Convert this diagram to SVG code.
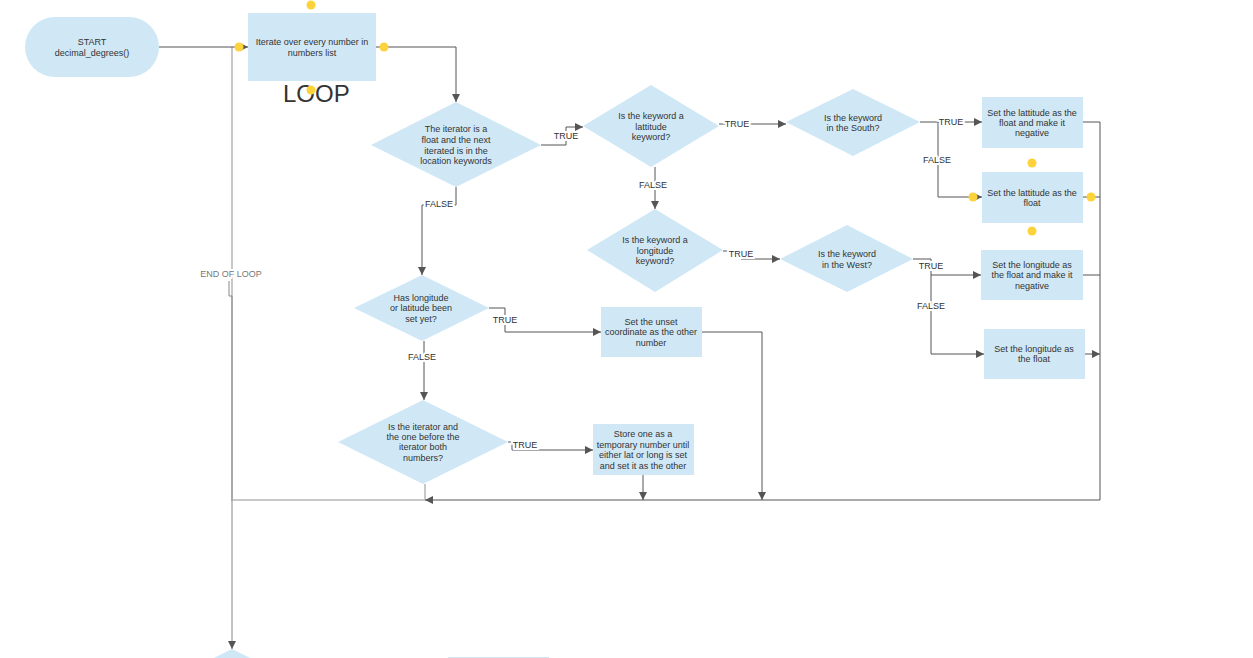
<svg xmlns="http://www.w3.org/2000/svg" width="1253" height="658" viewBox="0 0 1253 658">
<style>
.n{fill:#d0e8f6;stroke:none}
.t{font-family:"Liberation Sans",Arial,sans-serif;font-size:9px;fill:#333;text-anchor:middle}
.lbl{font-family:"Liberation Sans",Arial,sans-serif;font-size:9px;fill:#333;text-anchor:middle;stroke:#fff;stroke-width:4px;paint-order:stroke}
.c{fill:none;stroke:#555;stroke-width:1}
.g{fill:none;stroke:#c8c8c8;stroke-width:2}
.dot{fill:#fcd33b}
</style>
<defs>
<marker id="a" viewBox="0 0 8 8" refX="8" refY="4" markerWidth="8" markerHeight="8" markerUnits="userSpaceOnUse" orient="auto">
<path d="M0,0 L8,4 L0,8 z" fill="#555"/>
</marker>
</defs>
<rect width="1253" height="658" fill="#fff"/>
<g id="connectors">
<path class="g" d="M425,484 L425,500 L232,500 L232,47"/>
<path class="c" d="M159,47 L248,47" marker-end="url(#a)"/>
<path class="c" d="M376,47 L456,47 L456,102" marker-end="url(#a)"/>
<path class="c" d="M541,145 L566,145 L566,127 L583,127" marker-end="url(#a)"/>
<path class="c" d="M456,187 L456,205 L422,205 L422,275" marker-end="url(#a)"/>
<path class="c" d="M719,124 L786,124" marker-end="url(#a)"/>
<path class="c" d="M655,167 L655,209" marker-end="url(#a)"/>
<path class="c" d="M920,122 L982,122" marker-end="url(#a)"/>
<path class="c" d="M938,122 L938,197 L982,197" marker-end="url(#a)"/>
<path class="c" d="M723,251 L741,251 L741,259 L780,259" marker-end="url(#a)"/>
<path class="c" d="M913,259 L931,259 L931,354 L984,354" marker-end="url(#a)"/>
<path class="c" d="M931,275 L981,275" marker-end="url(#a)"/>
<path class="c" d="M1083,122 L1100,122 L1100,500 L425,500" marker-end="url(#a)"/>
<path class="c" d="M1083,197 L1100,197"/>
<path class="c" d="M1083,275 L1100,275"/>
<path class="c" d="M1085,354 L1100,354" marker-end="url(#a)"/>
<path class="c" d="M489,308 L505,308 L505,332 L601,332" marker-end="url(#a)"/>
<path class="c" d="M702,332 L762,332 L762,500" marker-end="url(#a)"/>
<path class="c" d="M424,341 L424,400" marker-end="url(#a)"/>
<path class="c" d="M508,442 L512,442 L512,450 L593,450" marker-end="url(#a)"/>
<path class="c" d="M643,475 L643,500" marker-end="url(#a)"/>
<path class="c" style="stroke:#888" d="M229,281 L229,296 L232,296 L232,649" marker-end="url(#a)"/>
<text class="lbl" x="566" y="139">TRUE</text>
<text class="lbl" x="439" y="207">FALSE</text>
<text class="lbl" x="737" y="127">TRUE</text>
<text class="lbl" x="653" y="188">FALSE</text>
<text class="lbl" x="951" y="125">TRUE</text>
<text class="lbl" x="937" y="163">FALSE</text>
<text class="lbl" x="741" y="257">TRUE</text>
<text class="lbl" x="931" y="269">TRUE</text>
<text class="lbl" x="931" y="309">FALSE</text>
<text class="lbl" x="505" y="323">TRUE</text>
<text class="lbl" x="422" y="360">FALSE</text>
<text class="lbl" x="525" y="448">TRUE</text>
<text class="lbl" x="231" y="277" style="fill:#777">END OF LOOP</text>
</g>
<g id="start">
<rect class="n" x="25" y="17" width="134" height="60" rx="30"/>
<text class="t" x="92" y="45">START</text>
<text class="t" x="92" y="56">decimal_degrees()</text>
</g>
<g id="loop">
<rect class="n" x="248" y="13" width="128" height="68"/>
<text class="t" x="312" y="45">Iterate over every number in</text>
<text class="t" x="312" y="56">numbers list</text>
<text x="283" y="102" style="font-family:'Liberation Sans',Arial,sans-serif;font-size:24px;fill:#333">LOOP</text>
<circle class="dot" cx="311" cy="5" r="4.5"/>
<circle class="dot" cx="239" cy="47" r="4.5"/>
<circle class="dot" cx="384" cy="47" r="4.5"/>
<circle class="dot" cx="311" cy="90" r="4.5"/>
</g>
<g id="d1">
<polygon class="n" points="456,102 541,145 456,187 371,145"/>
<text class="t" x="456" y="132">The iterator is a</text>
<text class="t" x="456" y="143">float and the next</text>
<text class="t" x="456" y="154">iterated is in the</text>
<text class="t" x="456" y="164">location keywords</text>
</g>
<g id="d2">
<polygon class="n" points="651,85 719,126 651,167 583,126"/>
<text class="t" x="651" y="119">Is the keyword a</text>
<text class="t" x="651" y="130">lattitude</text>
<text class="t" x="651" y="140">keyword?</text>
</g>
<g id="d3">
<polygon class="n" points="853,89 920,122 853,156 786,122"/>
<text class="t" x="853" y="121">Is the keyword</text>
<text class="t" x="853" y="131">in the South?</text>
</g>
<g id="b1">
<rect class="n" x="982" y="97" width="101" height="51"/>
<text class="t" x="1032" y="116">Set the lattitude as the</text>
<text class="t" x="1032" y="126">float and make it</text>
<text class="t" x="1032" y="136">negative</text>
</g>
<g id="b2">
<rect class="n" x="982" y="172" width="101" height="51"/>
<text class="t" x="1032" y="196">Set the lattitude as the</text>
<text class="t" x="1032" y="206">float</text>
<circle class="dot" cx="1032" cy="163" r="4.5"/>
<circle class="dot" cx="973" cy="197" r="4.5"/>
<circle class="dot" cx="1091" cy="197" r="4.5"/>
<circle class="dot" cx="1032" cy="231" r="4.5"/>
</g>
<g id="d4">
<polygon class="n" points="655,209 723,250 655,292 587,250"/>
<text class="t" x="655" y="243">Is the keyword a</text>
<text class="t" x="655" y="254">longitude</text>
<text class="t" x="655" y="264">keyword?</text>
</g>
<g id="d5">
<polygon class="n" points="847,225 913,259 847,292 780,259"/>
<text class="t" x="847" y="257">Is the keyword</text>
<text class="t" x="847" y="268">in the West?</text>
</g>
<g id="b3">
<rect class="n" x="981" y="250" width="102" height="50"/>
<text class="t" x="1032" y="268">Set the longitude as</text>
<text class="t" x="1032" y="278">the float and make it</text>
<text class="t" x="1032" y="289">negative</text>
</g>
<g id="b4">
<rect class="n" x="984" y="329" width="101" height="50"/>
<text class="t" x="1034" y="352">Set the longitude as</text>
<text class="t" x="1034" y="362">the float</text>
</g>
<g id="d6">
<polygon class="n" points="422,275 489,308 422,341 354,308"/>
<text class="t" x="421" y="301">Has longitude</text>
<text class="t" x="421" y="311">or latitude been</text>
<text class="t" x="421" y="322">set yet?</text>
</g>
<g id="b5">
<rect class="n" x="601" y="307" width="101" height="50"/>
<text class="t" x="651" y="325">Set the unset</text>
<text class="t" x="651" y="335">coordinate as the other</text>
<text class="t" x="651" y="346">number</text>
</g>
<g id="d7">
<polygon class="n" points="423,400 508,442 423,484 338,442"/>
<text class="t" x="423" y="430">Is the iterator and</text>
<text class="t" x="423" y="440">the one before the</text>
<text class="t" x="423" y="450">iterator both</text>
<text class="t" x="423" y="461">numbers?</text>
</g>
<g id="b6">
<rect class="n" x="593" y="424" width="101" height="51"/>
<text class="t" x="643" y="437">Store one as a</text>
<text class="t" x="643" y="448">temporary number until</text>
<text class="t" x="643" y="458">either lat or long is set</text>
<text class="t" x="643" y="469">and set it as the other</text>
</g>
<g id="d8">
<polygon class="n" points="232,649 317,691 232,733 147,691"/>
</g>
<g id="b7">
<rect class="n" x="448" y="657" width="101" height="50"/>
</g>
</svg>
